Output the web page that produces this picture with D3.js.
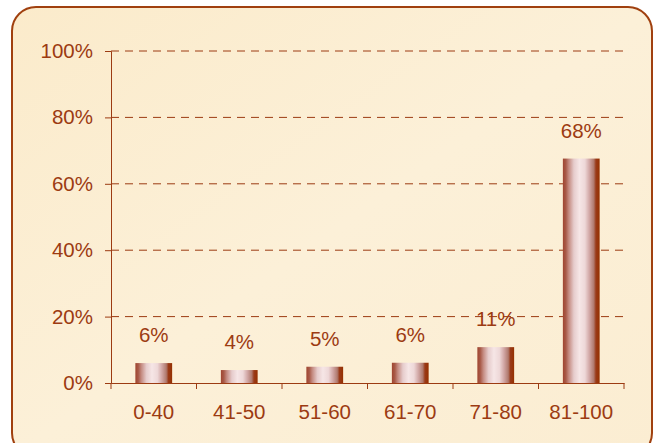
<!DOCTYPE html>
<html><head><meta charset="utf-8">
<script src="https://cdn.jsdelivr.net/npm/d3@7"></script>
<style>html,body{margin:0;padding:0;background:#fff;}svg{display:block;}</style>
</head><body>
<div id="chart"></div>
<script>
const categories = ["0-40","41-50","51-60","61-70","71-80","81-100"];
const values = [6.0, 3.9, 4.9, 6.1, 10.8, 67.6];
const labels = ["6%","4%","5%","6%","11%","68%"];
const yTicks = [0,20,40,60,80,100];

const W = 655, H = 443;
const margin = {left:111, right:31, top:51, bottom:60};
const FONT = "Liberation Sans, Arial, sans-serif";
const FS = 20.5;
const svg = d3.select("#chart").append("svg").attr("width",W).attr("height",H);
const defs = svg.append("defs");

const bg = defs.append("linearGradient").attr("id","bg").attr("x1","0").attr("y1","0").attr("x2","1").attr("y2","1");
bg.append("stop").attr("offset","0").attr("stop-color","#fbebcb");
bg.append("stop").attr("offset","0.5").attr("stop-color","#fcf0d8");
bg.append("stop").attr("offset","1").attr("stop-color","#fbedd2");

const g1 = defs.append("linearGradient").attr("id","bar").attr("x1","0").attr("y1","0").attr("x2","1").attr("y2","0");
[[0,"#a04530"],[0.08,"#a85a48"],[0.16,"#c48a80"],[0.3,"#e6cccc"],[0.45,"#f6e6e6"],[0.6,"#eed8d8"],[0.72,"#d2a8a6"],[0.84,"#b07a6e"],[0.9,"#9a3a18"],[1,"#953000"]]
  .forEach(([o,c])=>g1.append("stop").attr("offset",o).attr("stop-color",c));

svg.append("rect").attr("x",12).attr("y",7).attr("width",640).attr("height",450)
  .attr("rx",24).attr("ry",24).attr("fill","url(#bg)").attr("stroke","#a0400f").attr("stroke-width",2);

const x = d3.scaleBand().domain(categories).range([margin.left, W-margin.right]).paddingInner(0).paddingOuter(0);
const y = d3.scaleLinear().domain([0,100]).range([H-margin.bottom, margin.top]);
const col = "#9c3b12";

// gridlines
svg.append("g").selectAll("line").data(yTicks.filter(d=>d>0)).join("line")
  .attr("x1",margin.left).attr("x2",W-margin.right)
  .attr("y1",d=>y(d)).attr("y2",d=>y(d))
  .attr("stroke",col).attr("stroke-width",1).attr("stroke-dasharray","8,6");

// y axis
const ya = svg.append("g").attr("transform",`translate(${margin.left},0)`)
  .call(d3.axisLeft(y).tickValues(yTicks).tickFormat(d=>d+"%").tickSize(6).tickPadding(12));
ya.select(".domain").attr("stroke",col);
ya.selectAll(".tick line").attr("stroke",col);
ya.selectAll("text").attr("fill",col).attr("font-size",FS).attr("font-family",FONT);

// x axis
const xa = svg.append("g").attr("transform",`translate(0,${y(0)})`)
  .call(d3.axisBottom(x).tickSize(0).tickPadding(21));
xa.select(".domain").attr("stroke",col);
xa.selectAll("text").attr("fill",col).attr("font-size",FS).attr("font-family",FONT);
// boundary ticks
svg.append("g").selectAll("line").data(categories.concat(["end"])).join("line")
  .attr("x1",(d,i)=>margin.left + i*x.bandwidth()).attr("x2",(d,i)=>margin.left + i*x.bandwidth())
  .attr("y1",y(0)).attr("y2",y(0)+6).attr("stroke",col);

// bars
const bw = x.bandwidth()*0.43;
svg.append("g").selectAll("rect").data(values).join("rect")
  .attr("x",(d,i)=>x(categories[i]) + x.bandwidth()/2 - bw/2)
  .attr("y",d=>y(d)).attr("width",bw).attr("height",d=>y(0)-y(d))
  .attr("fill","url(#bar)");

// labels
svg.append("g").selectAll("text").data(values).join("text")
  .attr("x",(d,i)=>x(categories[i]) + x.bandwidth()/2)
  .attr("y",d=>y(d)-21)
  .attr("text-anchor","middle").attr("fill",col).attr("font-size",FS)
  .attr("font-family",FONT)
  .text((d,i)=>labels[i]);
</script>
</body></html>
